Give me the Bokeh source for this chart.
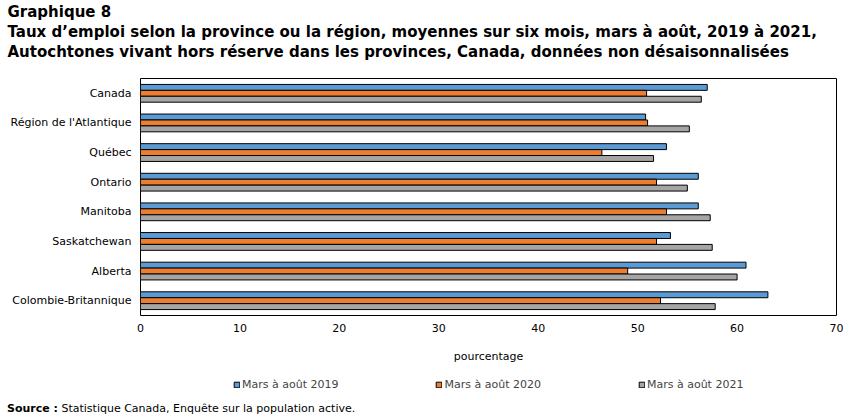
from bokeh.plotting import figure
from bokeh.layouts import column
from bokeh.models import Range1d, FactorRange, Legend, LegendItem, FixedTicker, Title, Div
from bokeh.transform import dodge
from bokeh.embed import file_html
from bokeh.resources import INLINE

categories = ["Canada", "Région de l'Atlantique", "Québec", "Ontario", "Manitoba",
              "Saskatchewan", "Alberta", "Colombie-Britannique"]
series_names = ["Mars à août 2019", "Mars à août 2020", "Mars à août 2021"]
values_2019 = [57.0, 50.8, 52.9, 56.1, 56.1, 53.3, 60.9, 63.1]
values_2020 = [50.9, 51.0, 46.4, 51.9, 52.9, 51.9, 49.0, 52.3]
values_2021 = [56.4, 55.2, 51.6, 55.0, 57.3, 57.5, 60.0, 57.8]
x_ticks = [0, 10, 20, 30, 40, 50, 60, 70]
colors = ["#5B9BD5", "#ED7D31", "#A5A5A5"]
title_lines = ["Graphique 8",
               "Taux d’emploi selon la province ou la région, moyennes sur six mois, mars à août, 2019 à 2021,",
               "Autochtones vivant hors réserve dans les provinces, Canada, données non désaisonnalisées"]
source_label = "Source :"
source_text = "Statistique Canada, Enquête sur la population active."

FONT = "DejaVu Sans"
FRAME_LEFT, FRAME_TOP, FRAME_BOTTOM = 140, 77, 315
MAIN_H = 370
LEG_H = 28
SRC_H = 417 - MAIN_H - LEG_H

data = dict(cat=categories, v2019=values_2019, v2020=values_2020, v2021=values_2021)

p = figure(width=852, height=MAIN_H, output_backend="svg", toolbar_location=None,
           y_range=FactorRange(*reversed(categories)), x_range=Range1d(0, 70),
           min_border_left=FRAME_LEFT, min_border_right=16, min_border_top=FRAME_TOP,
           min_border_bottom=MAIN_H - FRAME_BOTTOM)

for key, off, col in zip(["v2019", "v2020", "v2021"], [0.2, 0.0, -0.2], colors):
    p.hbar(y=dodge("cat", off, range=p.y_range), right=key, left=0, height=0.2,
           source=data, fill_color=col, line_color="black", line_width=1)

p.outline_line_color = "black"
p.outline_line_width = 1
p.xgrid.grid_line_color = None
p.ygrid.grid_line_color = None

p.xaxis.ticker = FixedTicker(ticks=x_ticks)
p.xaxis.axis_line_color = None
p.xaxis.major_tick_line_color = None
p.xaxis.minor_tick_line_color = None
p.xaxis.major_tick_out = 0
p.xaxis.major_label_standoff = 8
p.xaxis.major_label_text_font = FONT
p.xaxis.major_label_text_font_size = "11px"
p.xaxis.major_label_text_color = "black"
p.xaxis.axis_label = "pourcentage"
p.xaxis.axis_label_text_font = FONT
p.xaxis.axis_label_text_font_size = "11px"
p.xaxis.axis_label_text_font_style = "normal"
p.xaxis.axis_label_standoff = 15
p.xaxis.axis_label_text_color = "black"

p.yaxis.axis_line_color = None
p.yaxis.major_tick_line_color = None
p.yaxis.major_tick_out = 0
p.yaxis.major_label_standoff = 9
p.yaxis.major_label_text_font = FONT
p.yaxis.major_label_text_font_size = "11px"
p.yaxis.major_label_text_color = "black"

TITLE_SIZE = "15px"
# spacer closest to the frame, then the title lines from the bottom one upward
p.add_layout(Title(text=" ", align="left", standoff=0, text_font=FONT,
                   text_font_size="14px"), "above")
for t in reversed(title_lines):
    p.add_layout(Title(text=t, align="left", offset=7 - FRAME_LEFT, standoff=0,
                       text_font=FONT, text_font_size=TITLE_SIZE, text_font_style="bold",
                       text_color="black"), "above")

# legend strip
lf = figure(width=852, height=LEG_H, output_backend="svg", toolbar_location=None,
            x_range=Range1d(0, 1), y_range=Range1d(0, 1), x_axis_type=None, y_axis_type=None,
            min_border=0, outline_line_color=None)
lf.xgrid.grid_line_color = None
lf.ygrid.grid_line_color = None
# legend proxies kept outside the visible range
leg_renderers = [lf.hbar(y=[-10], left=[0], right=[0], height=0.2, fill_color=c,
                         line_color="black", line_width=1) for c in colors]
legend = Legend(items=[LegendItem(label=n, renderers=[r]) for n, r in zip(series_names, leg_renderers)],
                orientation="horizontal", location=(93, 7), glyph_width=7, glyph_height=7,
                label_text_font=FONT, label_text_font_size="11px", label_standoff=2,
                spacing=97, padding=0, margin=0,
                border_line_color=None, background_fill_alpha=0)
lf.add_layout(legend, "center")

src = Div(text=f"<b>{source_label}</b> {source_text}", width=852 - 7, height=SRC_H,
          margin=(0, 0, 0, 7),
          styles={"font-family": FONT, "font-size": "11px", "line-height": "21px",
                  "color": "black"})

layout = column(p, lf, src, spacing=0)
open("out.html", "w").write(file_html(layout, INLINE))
